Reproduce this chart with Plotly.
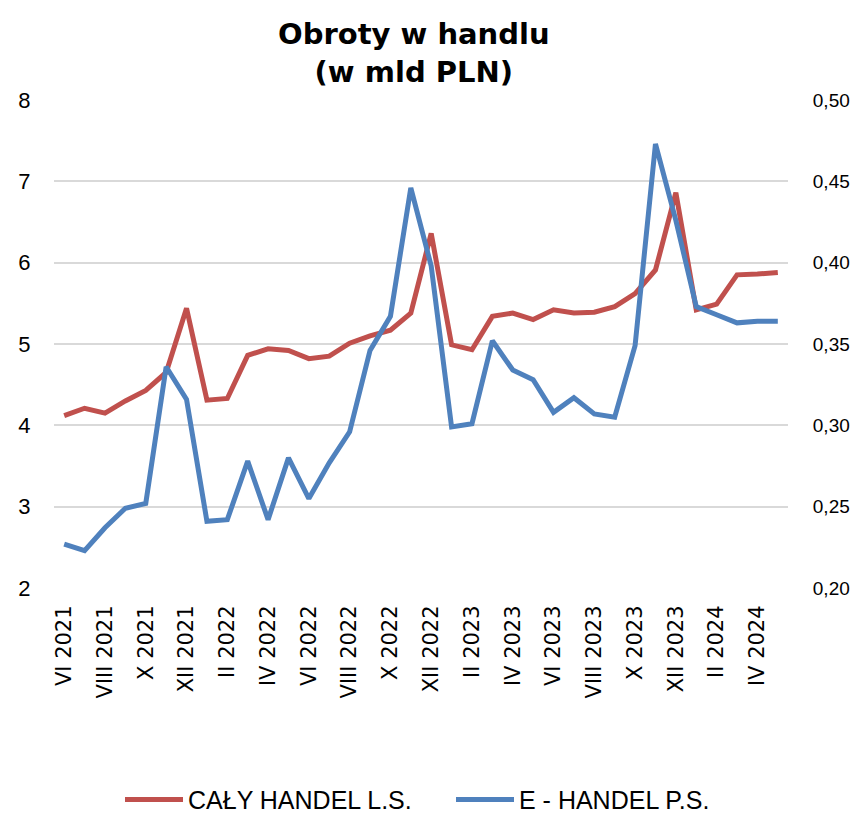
import plotly.graph_objects as go

months = ["VI 2021", "VII 2021", "VIII 2021", "IX 2021", "X 2021", "XI 2021", "XII 2021",
          "I 2022", "II 2022", "III 2022", "IV 2022", "V 2022", "VI 2022", "VII 2022",
          "VIII 2022", "IX 2022", "X 2022", "XI 2022", "XII 2022",
          "I 2023", "II 2023", "III 2023", "IV 2023", "V 2023", "VI 2023", "VII 2023",
          "VIII 2023", "IX 2023", "X 2023", "XI 2023", "XII 2023",
          "I 2024", "II 2024", "III 2024", "IV 2024", "V 2024"]

caly_handel = [4.12, 4.21, 4.15, 4.30, 4.43, 4.65, 5.44, 4.31, 4.33, 4.86, 4.94, 4.92,
               4.82, 4.85, 5.01, 5.10, 5.17, 5.38, 6.36, 4.99, 4.93, 5.34, 5.38, 5.30,
               5.42, 5.38, 5.39, 5.46, 5.62, 5.91, 6.86, 5.42, 5.49, 5.85, 5.86, 5.88]

e_handel = [0.227, 0.223, 0.237, 0.249, 0.252, 0.336, 0.316, 0.241, 0.242, 0.278, 0.242, 0.280,
            0.255, 0.277, 0.296, 0.346, 0.367, 0.446, 0.398, 0.299, 0.301, 0.352, 0.334, 0.328,
            0.308, 0.317, 0.307, 0.305, 0.349, 0.473, 0.426, 0.373, 0.368, 0.363, 0.364, 0.364]

left_ticks = [2, 3, 4, 5, 6, 7, 8]
right_ticks = [0.20, 0.25, 0.30, 0.35, 0.40, 0.45, 0.50]
right_tick_text = ["0,20", "0,25", "0,30", "0,35", "0,40", "0,45", "0,50"]

x = list(range(len(months)))
tick_idx = x[::2]
tick_text = [months[i] for i in tick_idx]

VERD = "DejaVu Sans, Verdana, sans-serif"
SANS = "Liberation Sans, Arial, sans-serif"

fig = go.Figure()
fig.add_trace(go.Scatter(x=x, y=caly_handel, mode="lines", name="CAŁY HANDEL L.S.",
                         line=dict(color="#C0504D", width=5), yaxis="y"))
fig.add_trace(go.Scatter(x=x, y=e_handel, mode="lines", name="E - HANDEL P.S.",
                         line=dict(color="#4F81BD", width=5), yaxis="y2"))

fig.update_layout(
    width=855, height=813,
    margin=dict(l=54, r=67, t=100, b=225, autoexpand=False),
    paper_bgcolor="white", plot_bgcolor="white",
    font=dict(family=SANS, color="black"),
    xaxis=dict(range=[-0.5, len(months) - 0.5], tickmode="array", tickvals=tick_idx,
               ticktext=tick_text, tickangle=-90, tickfont=dict(size=21, family=VERD),
               showgrid=False, zeroline=False, showline=False, automargin=False,
               ticks="outside", ticklen=8, tickcolor="rgba(0,0,0,0)"),
    yaxis=dict(range=[2, 8], tickvals=left_ticks, tickfont=dict(size=22, family=SANS),
               showgrid=True, gridcolor="#D9D9D9", gridwidth=1.5, zeroline=False,
               automargin=False,
               ticks="outside", ticklen=18, tickcolor="rgba(0,0,0,0)"),
    yaxis2=dict(range=[0.20, 0.50], tickvals=right_ticks, ticktext=right_tick_text,
                overlaying="y", side="right", tickfont=dict(size=19, family=SANS),
                showgrid=False, zeroline=False, automargin=False,
                ticks="outside", ticklen=20, tickcolor="rgba(0,0,0,0)"),
    legend=dict(orientation="h", x=(451 - 54) / 734, xanchor="center", y=-0.434, yanchor="middle",
                font=dict(size=25, family=SANS), itemwidth=58, entrywidth=258,
                traceorder="normal"),
    showlegend=True,
    annotations=[dict(text="<b>Obroty w handlu<br>(w mld PLN)</b>", xref="paper", yref="paper",
                      x=0.49, y=1.097, xanchor="center", yanchor="middle", showarrow=False,
                      font=dict(size=29, family=VERD, color="black"))],
)

fig.write_html("out.html", config={"displayModeBar": False},
               post_script="document.body.style.margin='0';")
